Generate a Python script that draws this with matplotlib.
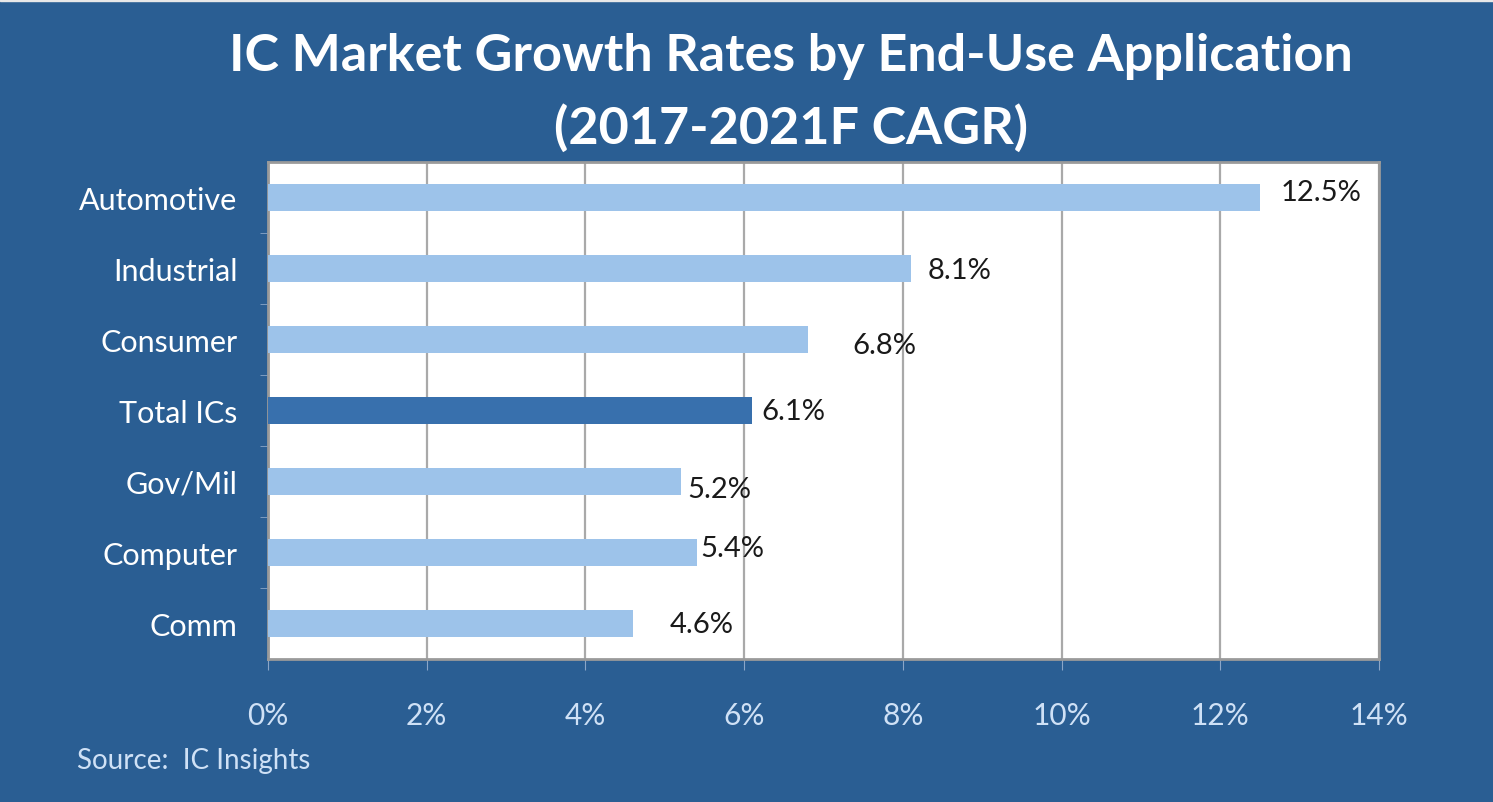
import matplotlib
matplotlib.use("Agg")
import matplotlib.pyplot as plt
from matplotlib.ticker import FuncFormatter

categories = ["Automotive", "Industrial", "Consumer", "Total ICs", "Gov/Mil", "Computer", "Comm"]
cagr = [12.5, 8.1, 6.8, 6.1, 5.2, 5.4, 4.6]
highlight = "Total ICs"
value_labels = ["12.5%", "8.1%", "6.8%", "6.1%", "5.2%", "5.4%", "4.6%"]
x_ticks = [0, 2, 4, 6, 8, 10, 12, 14]

# label offsets in pixels (dx, dy) -- the source placed them unevenly
label_offsets = [(21, 5), (17, -2), (45, -6), (9, -1), (7, -8), (4, 4), (37, -1)]

BG = "#2a5e93"
BAR = "#9dc3ea"
BAR_DARK = "#3870ad"
FONT = ["Lato", "DejaVu Sans"]

fig = plt.figure(figsize=(14.93, 8.03), dpi=100)
fig.patch.set_facecolor(BG)
ax = fig.add_axes([268 / 1493, 1 - 660 / 803, (1379 - 268) / 1493, (660 - 163) / 803])
ax.set_facecolor("white")

y = list(range(len(categories)))
colors = [BAR_DARK if c == highlight else BAR for c in categories]
ax.barh(y, cagr, height=0.37, color=colors, zorder=3)

ax.set_ylim(len(categories) - 0.5, -0.5)
ax.set_xlim(0, 14)
ax.set_xticks(x_ticks)
ax.xaxis.set_major_formatter(FuncFormatter(lambda v, _: f"{v:.0f}%"))
ax.set_yticks(y)
ax.set_yticklabels(categories)
ax.set_yticks([i + 0.5 for i in y[:-1]], minor=True)
ax.tick_params(axis="y", which="major", length=0, pad=22, labelsize=22,
               labelcolor="white")
ax.tick_params(axis="y", which="minor", length=6, color="#8aa6c8", direction="out")
ax.tick_params(axis="x", length=8, color="#8aa6c8", pad=22, labelsize=21.5,
               labelcolor="#cfe1f6")
for lbl in ax.get_xticklabels() + ax.get_yticklabels():
    lbl.set_family(FONT)

ax.grid(axis="x", color="#a9a9a9", linewidth=1.6, zorder=1)
for s in ax.spines.values():
    s.set_color("#9a9a9a")
    s.set_linewidth(2)

for i, (v, t) in enumerate(zip(cagr, value_labels)):
    dx, dy = label_offsets[i]
    ax.annotate(t, (v, i), xytext=(dx * 0.72, dy * 0.72), textcoords="offset points",
                ha="left", va="center", fontsize=21, color="#1a1a1a",
                family=FONT, zorder=4)

fig.text(0.5296, 1 - 57 / 803, "IC Market Growth Rates by End-Use Application",
         ha="center", va="center", fontsize=37.5, fontweight="bold",
         color="white", family=FONT)
fig.text(0.5296, 1 - 128 / 803, "(2017-2021F CAGR)",
         ha="center", va="center", fontsize=37.5, fontweight="bold",
         color="white", family=FONT)
fig.text(77 / 1493, 1 - 761 / 803, "Source:  IC Insights",
         ha="left", va="center", fontsize=20, color="#cfe1f6", family=FONT)

# thin light strip along the top edge
fig.add_artist(plt.Rectangle((0, 1 - 2 / 803), 1, 2 / 803, transform=fig.transFigure,
                             color="#e8e8e8", zorder=10))

fig.savefig("out.png", dpi=100, facecolor=BG)
